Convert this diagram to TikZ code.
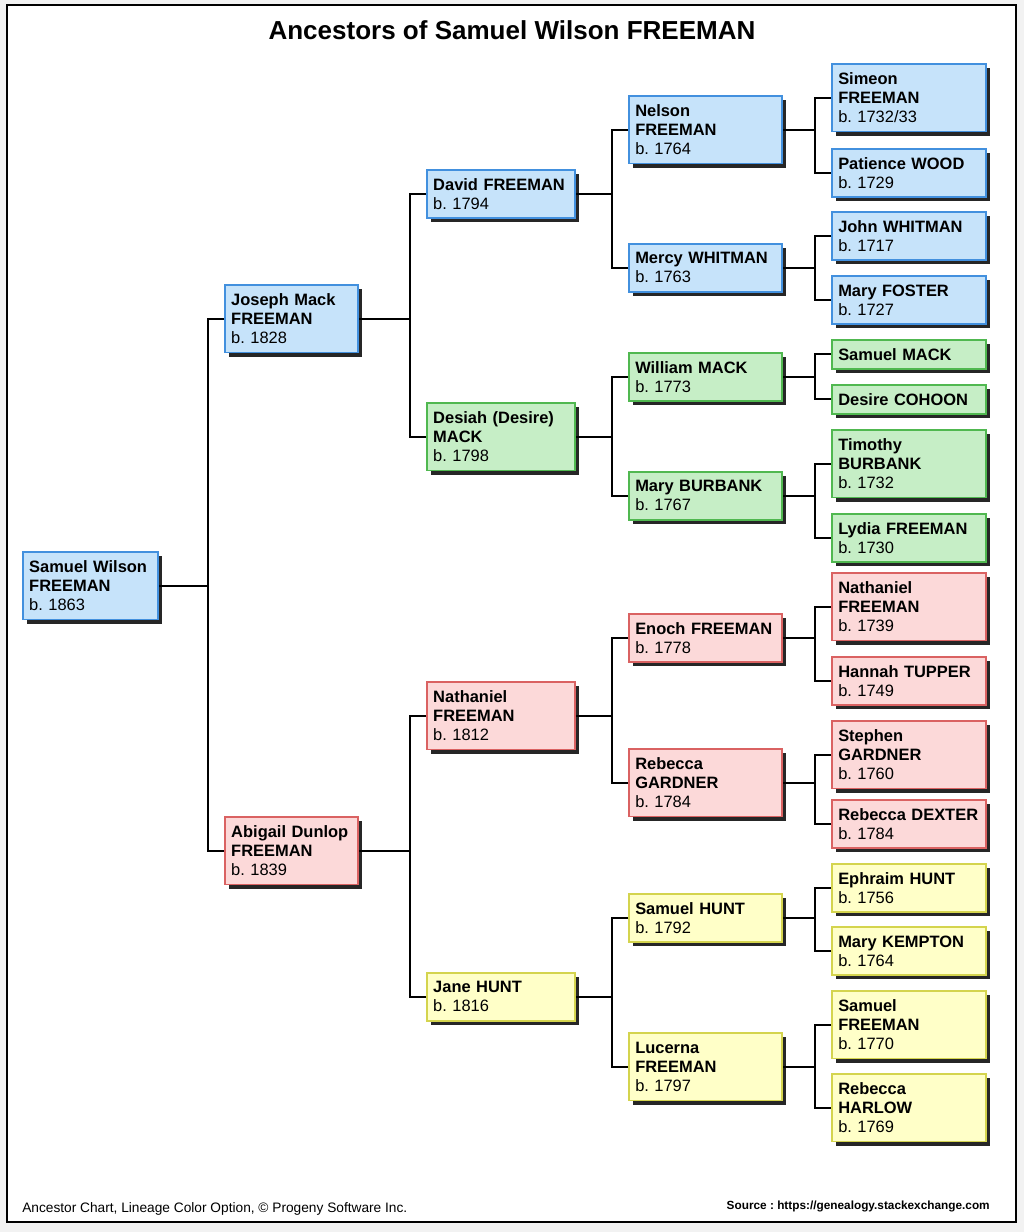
\documentclass[tikz,border=0pt]{standalone}
\usepackage{fontspec}
\setmainfont{Liberation Sans}
\frenchspacing
\usetikzlibrary{shadows}
\definecolor{bluefill}{HTML}{C6E3FA}
\definecolor{blueline}{HTML}{4290DE}
\definecolor{greenfill}{HTML}{C6EEC6}
\definecolor{greenline}{HTML}{50B850}
\definecolor{redfill}{HTML}{FCD9D9}
\definecolor{redline}{HTML}{DA6262}
\definecolor{yellowfill}{HTML}{FFFFC8}
\definecolor{yellowline}{HTML}{D4D44E}

\begin{document}
\begin{tikzpicture}[x=0.025cm, y=-0.025cm,
  person/.style={draw, line width=1.2pt, anchor=north west, align=left,
    inner xsep=0.16cm, inner ysep=0pt, font=\fontsize{11.7}{13.5}\selectfont\bfseries,
    drop shadow={shadow xshift=0.11cm, shadow yshift=-0.11cm, opacity=1, fill=black!85}},
  bluebox/.style={fill=bluefill, draw=blueline},
  greenbox/.style={fill=greenfill, draw=greenline},
  redbox/.style={fill=redfill, draw=redline},
  yellowbox/.style={fill=yellowfill, draw=yellowline},
  col0/.style={text width=3.05cm}, col1/.style={text width=3.01cm},
  col2/.style={text width=3.375cm}, col3/.style={text width=3.51cm},
  col4/.style={text width=3.525cm},
  h1/.style={minimum height=0.725cm}, h2/.style={minimum height=1.2cm},
  h3/.style={minimum height=1.69cm},
  branch/.style={line width=1.4pt}]
% page
\fill[gray!10] (0,0) rectangle (1024,1232);
\draw[line width=1.5pt, fill=white] (7,5) rectangle (1016,1222);
\node[font=\fontsize{18.5}{22}\selectfont\bfseries] (title) at (512,30) {Ancestors of Samuel Wilson FREEMAN};

% first generation
\node[person, bluebox, col0, h3] (sam) at (22,551) {Samuel Wilson\\FREEMAN\\\mdseries b. 1863};

% parents
\node[person, bluebox, col1, h3] (joseph) at (224,284) {Joseph Mack\\FREEMAN\\\mdseries b. 1828};
\node[person, redbox, col1, h3] (abigail) at (224,816) {Abigail Dunlop\\FREEMAN\\\mdseries b. 1839};

% grandparents
\node[person, bluebox, col2, h2] (david) at (426,169) {David FREEMAN\\\mdseries b. 1794};
\node[person, greenbox, col2, h3] (desiah) at (426,402) {Desiah (Desire)\\MACK\\\mdseries b. 1798};
\node[person, redbox, col2, h3] (nath) at (426,681) {Nathaniel\\FREEMAN\\\mdseries b. 1812};
\node[person, yellowbox, col2, h2] (jane) at (426,972) {Jane HUNT\\\mdseries b. 1816};

% great-grandparents
\node[person, bluebox, col3, h3] (nelson) at (628,95) {Nelson\\FREEMAN\\\mdseries b. 1764};
\node[person, bluebox, col3, h2] (mercy) at (628,243) {Mercy WHITMAN\\\mdseries b. 1763};
\node[person, greenbox, col3, h2] (william) at (628,352) {William MACK\\\mdseries b. 1773};
\node[person, greenbox, col3, h2] (maryb) at (628,471) {Mary BURBANK\\\mdseries b. 1767};
\node[person, redbox, col3, h2] (enoch) at (628,613) {Enoch FREEMAN\\\mdseries b. 1778};
\node[person, redbox, col3, h3] (rebg) at (628,748) {Rebecca\\GARDNER\\\mdseries b. 1784};
\node[person, yellowbox, col3, h2] (samh) at (628,893) {Samuel HUNT\\\mdseries b. 1792};
\node[person, yellowbox, col3, h3] (lucerna) at (628,1032) {Lucerna\\FREEMAN\\\mdseries b. 1797};

% last column
\node[person, bluebox, col4, h3] (simeon) at (831,63) {Simeon\\FREEMAN\\\mdseries b. 1732/33};
\node[person, bluebox, col4, h2] (patience) at (831,148) {Patience WOOD\\\mdseries b. 1729};
\node[person, bluebox, col4, h2] (john) at (831,211) {John WHITMAN\\\mdseries b. 1717};
\node[person, bluebox, col4, h2] (maryf) at (831,275) {Mary FOSTER\\\mdseries b. 1727};
\node[person, greenbox, col4, h1] (samm) at (831,339) {Samuel MACK};
\node[person, greenbox, col4, h1] (desire) at (831,384) {Desire COHOON};
\node[person, greenbox, col4, h3] (timothy) at (831,429) {Timothy\\BURBANK\\\mdseries b. 1732};
\node[person, greenbox, col4, h2] (lydia) at (831,513) {Lydia FREEMAN\\\mdseries b. 1730};
\node[person, redbox, col4, h3] (nathf) at (831,572) {Nathaniel\\FREEMAN\\\mdseries b. 1739};
\node[person, redbox, col4, h2] (hannah) at (831,656) {Hannah TUPPER\\\mdseries b. 1749};
\node[person, redbox, col4, h3] (stephen) at (831,720) {Stephen\\GARDNER\\\mdseries b. 1760};
\node[person, redbox, col4, h2] (rebd) at (831,799) {Rebecca DEXTER\\\mdseries b. 1784};
\node[person, yellowbox, col4, h2] (ephraim) at (831,863) {Ephraim HUNT\\\mdseries b. 1756};
\node[person, yellowbox, col4, h2] (maryk) at (831,926) {Mary KEMPTON\\\mdseries b. 1764};
\node[person, yellowbox, col4, h3] (samf) at (831,990) {Samuel\\FREEMAN\\\mdseries b. 1770};
\node[person, yellowbox, col4, h3] (rebh) at (831,1073) {Rebecca\\HARLOW\\\mdseries b. 1769};

% lines
\foreach \kid/\elder in {joseph/sam, abigail/sam, david/joseph, desiah/joseph,
    nath/abigail, jane/abigail, nelson/david, mercy/david, william/desiah, maryb/desiah,
    enoch/nath, rebg/nath, samh/jane, lucerna/jane, simeon/nelson, patience/nelson,
    john/mercy, maryf/mercy, samm/william, desire/william, timothy/maryb, lydia/maryb,
    nathf/enoch, hannah/enoch, stephen/rebg, rebd/rebg, ephraim/samh, maryk/samh,
    samf/lucerna, rebh/lucerna}
  \draw[branch] (\kid.west) -- ++(-16,0) |- (\elder.east);

% footer
\node[anchor=base west, inner sep=0, font=\fontsize{9.75}{11}\selectfont] (credit) at (22,1212) {Ancestor Chart, Lineage Color Option, © Progeny Software Inc.};
\node[anchor=base east, inner sep=0, font=\fontsize{8.4}{10}\selectfont\bfseries] (source) at (990,1209) {Source : https://genealogy.stackexchange.com};
\end{tikzpicture}
\end{document}
